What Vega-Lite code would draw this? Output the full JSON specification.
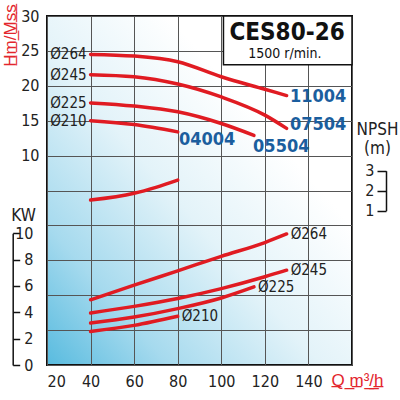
{
  "$schema": "https://vega.github.io/schema/vega-lite/v6.json",
  "width": 305,
  "height": 349,
  "autosize": "none",
  "padding": {"left": 47, "top": 16, "right": 48, "bottom": 35},
  "background": "white",
  "view": {
    "fill": {
      "gradient": "linear",
      "x1": 0, "y1": 1, "x2": 1, "y2": 0,
      "stops": [
        {"offset": 0, "color": "#58bbdf"},
        {"offset": 0.2, "color": "#a6daee"},
        {"offset": 0.45, "color": "#e3f3f9"},
        {"offset": 0.7, "color": "#ffffff"}
      ]
    },
    "stroke": "#111",
    "strokeWidth": 2
  },
  "config": {
    "font": "Liberation Sans Narrow, DejaVu Sans Condensed, Liberation Sans, Arial, sans-serif",
    "axis": {"labelFontSize": 16, "labelColor": "#222", "titleFontWeight": "normal", "labelOverlap": false}
  },
  "datasets": {
    "head": [
      {"d": "Ø264", "q": 40, "h": 24.5},
      {"d": "Ø264", "q": 60, "h": 24.26},
      {"d": "Ø264", "q": 80, "h": 23.45},
      {"d": "Ø264", "q": 100, "h": 21.3},
      {"d": "Ø264", "q": 120, "h": 19.5},
      {"d": "Ø264", "q": 130, "h": 18.6},
      {"d": "Ø245", "q": 40, "h": 21.6},
      {"d": "Ø245", "q": 60, "h": 21.3},
      {"d": "Ø245", "q": 80, "h": 20.25},
      {"d": "Ø245", "q": 100, "h": 18.4},
      {"d": "Ø245", "q": 120, "h": 15.8},
      {"d": "Ø245", "q": 130, "h": 13.9},
      {"d": "Ø225", "q": 40, "h": 17.55},
      {"d": "Ø225", "q": 60, "h": 17.1},
      {"d": "Ø225", "q": 80, "h": 16.27},
      {"d": "Ø225", "q": 100, "h": 14.6},
      {"d": "Ø225", "q": 115, "h": 12.9},
      {"d": "Ø210", "q": 40, "h": 15.0},
      {"d": "Ø210", "q": 60, "h": 14.45},
      {"d": "Ø210", "q": 80, "h": 13.4}
    ],
    "models": [
      {"model": "11004", "q": 131.5, "h": 18.4},
      {"model": "07504", "q": 131.5, "h": 14.4},
      {"model": "05504", "q": 114.6, "h": 11.2},
      {"model": "04004", "q": 80.6, "h": 12.2}
    ],
    "box": [{"q": 101, "q2": 160, "h": 23.0, "h2": 30}],
    "boxtitle": [{"t": "CES80-26", "q": 130.2, "h": 27.6}],
    "boxsub": [{"t": "1500 r/min.", "q": 129.2, "h": 24.5}],
    "power": [
      {"d": "Ø264", "q": 40, "kw": 4.95},
      {"d": "Ø264", "q": 60, "kw": 6.06},
      {"d": "Ø264", "q": 80, "kw": 7.15},
      {"d": "Ø264", "q": 100, "kw": 8.25},
      {"d": "Ø264", "q": 120, "kw": 9.3},
      {"d": "Ø264", "q": 130, "kw": 9.95},
      {"d": "Ø245", "q": 40, "kw": 3.95},
      {"d": "Ø245", "q": 60, "kw": 4.45},
      {"d": "Ø245", "q": 80, "kw": 5.05},
      {"d": "Ø245", "q": 100, "kw": 5.8},
      {"d": "Ø245", "q": 120, "kw": 6.7},
      {"d": "Ø245", "q": 130, "kw": 7.2},
      {"d": "Ø225", "q": 40, "kw": 3.19},
      {"d": "Ø225", "q": 60, "kw": 3.64},
      {"d": "Ø225", "q": 80, "kw": 4.28},
      {"d": "Ø225", "q": 100, "kw": 5.09},
      {"d": "Ø225", "q": 115, "kw": 5.93},
      {"d": "Ø210", "q": 40, "kw": 2.55},
      {"d": "Ø210", "q": 60, "kw": 3.01},
      {"d": "Ø210", "q": 80, "kw": 3.7}
    ],
    "npsh": [
      {"q": 40, "n": 1.53},
      {"q": 60, "n": 1.87},
      {"q": 70, "n": 2.17},
      {"q": 80, "n": 2.53}
    ]
  },
  "encoding": {
    "x": {
      "field": "q",
      "type": "quantitative",
      "scale": {"domain": [20, 160], "nice": false, "zero": false},
      "axis": {
        "values": [20, 40, 60, 80, 100, 120, 140, 160],
        "labelExpr": "datum.value < 160 ? datum.label : ''",
        "grid": true,
        "gridColor": "#555",
        "gridWidth": 1,
        "ticks": false,
        "domain": false,
        "labelPadding": 8,
        "title": "Q̲ ̲m̲³̲/̲h̲",
        "titleFont": "Liberation Sans",
        "titleColor": "#e3262d",
        "titleFontSize": 17,
        "titleX": 336,
        "titleY": 15,
        "titleAlign": "right",
        "titleBaseline": "middle"
      }
    }
  },
  "layer": [
    {
      "encoding": {
        "y": {
          "field": "h",
          "type": "quantitative",
          "scale": {"domain": [-20, 30], "nice": false, "zero": false},
          "axis": {
            "orient": "left",
            "values": [-20, -15, -10, -5, 0, 5, 10, 15, 20, 25, 30],
            "labelExpr": "datum.value >= 10 ? datum.label : ''",
            "grid": true,
            "gridColor": "#555",
            "gridWidth": 1,
            "ticks": false,
            "domain": false,
            "labelPadding": 8,
            "labelBaseline": "middle",
            "title": "H̲m̲/̲M̲s̲s̲",
            "titleFont": "Liberation Sans",
            "titleColor": "#e3262d",
            "titleFontSize": 17,
            "titleAngle": 270,
            "titleX": -37,
            "titleY": 19,
            "titleAlign": "center",
            "titleBaseline": "middle"
          }
        }
      },
      "layer": [
        {
          "data": {"name": "box"},
          "mark": {"type": "rect", "fill": "white", "stroke": "#111", "strokeWidth": 1.5},
          "encoding": {"x2": {"field": "q2"}, "y2": {"field": "h2"}}
        },
        {
          "data": {"name": "boxtitle"},
          "mark": {"type": "text", "color": "#111", "baseline": "middle", "fontSize": 24, "fontWeight": "bold"},
          "encoding": {"text": {"field": "t"}}
        },
        {
          "data": {"name": "boxsub"},
          "mark": {"type": "text", "color": "#111", "baseline": "middle", "fontSize": 14},
          "encoding": {"text": {"field": "t"}}
        },
        {
          "data": {"name": "head"},
          "mark": {"type": "line", "color": "#e01b22", "strokeWidth": 3.5, "interpolate": "monotone", "strokeCap": "round"},
          "encoding": {"detail": {"field": "d"}}
        },
        {
          "data": {"name": "head"},
          "transform": [{"filter": "datum.q == 40"}],
          "mark": {"type": "text", "align": "right", "baseline": "middle", "dx": -4, "fontSize": 15, "color": "#222"},
          "encoding": {"text": {"field": "d"}}
        },
        {
          "data": {"name": "models"},
          "mark": {"type": "text", "align": "left", "baseline": "middle", "fontSize": 18, "fontWeight": "bold", "color": "#1b5e9e"},
          "encoding": {"text": {"field": "model"}}
        }
      ]
    },
    {
      "data": {"name": "power"},
      "encoding": {
        "y": {
          "field": "kw",
          "type": "quantitative",
          "scale": {"domain": [0, 10], "nice": false, "range": [349, 217.3]},
          "axis": {
            "orient": "left",
            "offset": 34.3,
            "values": [0, 2, 4, 6, 8, 10],
            "grid": false,
            "tickSize": -7,
            "tickWidth": 1.5,
            "tickColor": "#111",
            "domainColor": "#111",
            "domainWidth": 1.5,
            "labelAlign": "right",
            "labelBaseline": "middle",
            "labelPadding": -13.3,
            "title": "KW",
            "titleFontSize": 17,
            "titleColor": "#222",
            "titleAngle": 0,
            "titleX": 10.3,
            "titleY": 199,
            "titleAlign": "center",
            "titleBaseline": "middle"
          }
        }
      },
      "layer": [
        {
          "mark": {"type": "line", "color": "#e01b22", "strokeWidth": 3.5, "interpolate": "monotone", "strokeCap": "round"},
          "encoding": {"detail": {"field": "d"}}
        },
        {
          "transform": [
            {"joinaggregate": [{"op": "max", "field": "q", "as": "qmax"}], "groupby": ["d"]},
            {"filter": "datum.q == datum.qmax"}
          ],
          "mark": {"type": "text", "align": "left", "baseline": "middle", "dx": 4, "fontSize": 15, "color": "#222"},
          "encoding": {"text": {"field": "d"}}
        }
      ]
    },
    {
      "data": {"name": "npsh"},
      "mark": {"type": "line", "color": "#e01b22", "strokeWidth": 3.5, "interpolate": "monotone", "strokeCap": "round"},
      "encoding": {
        "y": {
          "field": "n",
          "type": "quantitative",
          "scale": {"domain": [1, 3], "nice": false, "zero": false, "range": [194.7, 154.7]},
          "axis": {
            "orient": "left",
            "offset": -339,
            "values": [1, 2, 3],
            "labelExpr": "'' + datum.value",
            "grid": false,
            "tickSize": 9,
            "tickWidth": 1.5,
            "tickColor": "#111",
            "domainColor": "#111",
            "domainWidth": 1.5,
            "labelAlign": "right",
            "labelBaseline": "middle",
            "labelPadding": 3,
            "title": ["NPSH", "(m)"],
            "titleFontSize": 17,
            "titleColor": "#222",
            "titleAngle": 0,
            "titleX": -9,
            "titleY": 113,
            "titleAlign": "center",
            "titleBaseline": "middle",
            "titleLineHeight": 19
          }
        }
      }
    }
  ],
  "resolve": {"scale": {"y": "independent"}, "axis": {"y": "independent"}}
}
